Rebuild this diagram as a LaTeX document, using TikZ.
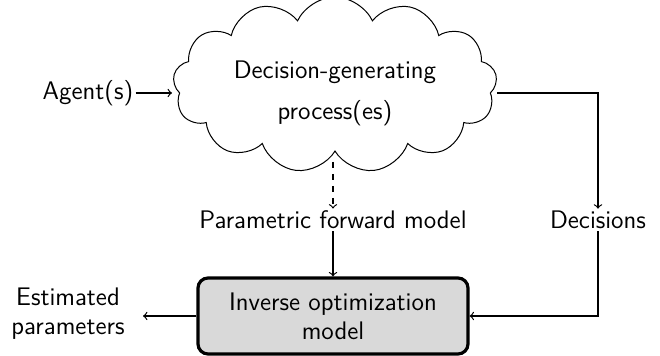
\documentclass[tikz,border=0pt]{standalone}
\usetikzlibrary{shapes.symbols}
\begin{document}
\begin{tikzpicture}[x=0.5pt,y=-0.5pt,font=\sffamily\fontsize{12.7}{14.5}\selectfont,
  lbl/.style={inner sep=1pt, align=center},
  arr/.style={->, line width=0.6pt},
  cloudbox/.style={cloud, cloud puffs=13, cloud puff arc=130, draw, line width=0.5pt, minimum width=162pt, minimum height=88pt, inner sep=0pt},
  iobox/.style={draw, line width=1.6pt, rounded corners=5pt, fill=black!15, minimum width=135pt, minimum height=38pt, align=center}]
\useasboundingbox (0,0) rectangle (660,356);
\node[cloudbox] (cl) at (335,85) {};
\node[lbl] (t1) at (335,72) {Decision-generating};
\node[lbl] (t2) at (335,113) {process(es)};
\node[lbl] (ag) at (88,93) {Agent(s)};
\node[lbl] (pf) at (333,220) {Parametric forward model};
\node[lbl] (de) at (598,220) {Decisions};
\node[iobox] (io) at (333,316) {Inverse optimization\\model};
\node[lbl] (ep) at (68,314) {Estimated\\parameters};
\coordinate (cr) at (497,93);
\coordinate (cb) at (333,162);
\coordinate (cl0) at (172,93);
\coordinate (ept) at (143,316);
\draw[arr] (ag.east) -- (cl0);
\draw[arr] (cr) -| (de.north);
\draw[arr, dashed] (cb) -- (pf.north);
\draw[arr] (pf.south) -- (io.north);
\draw[arr] (de.south) |- (io.east);
\draw[arr] (io.west) -- (ept);
\end{tikzpicture}
\end{document}
